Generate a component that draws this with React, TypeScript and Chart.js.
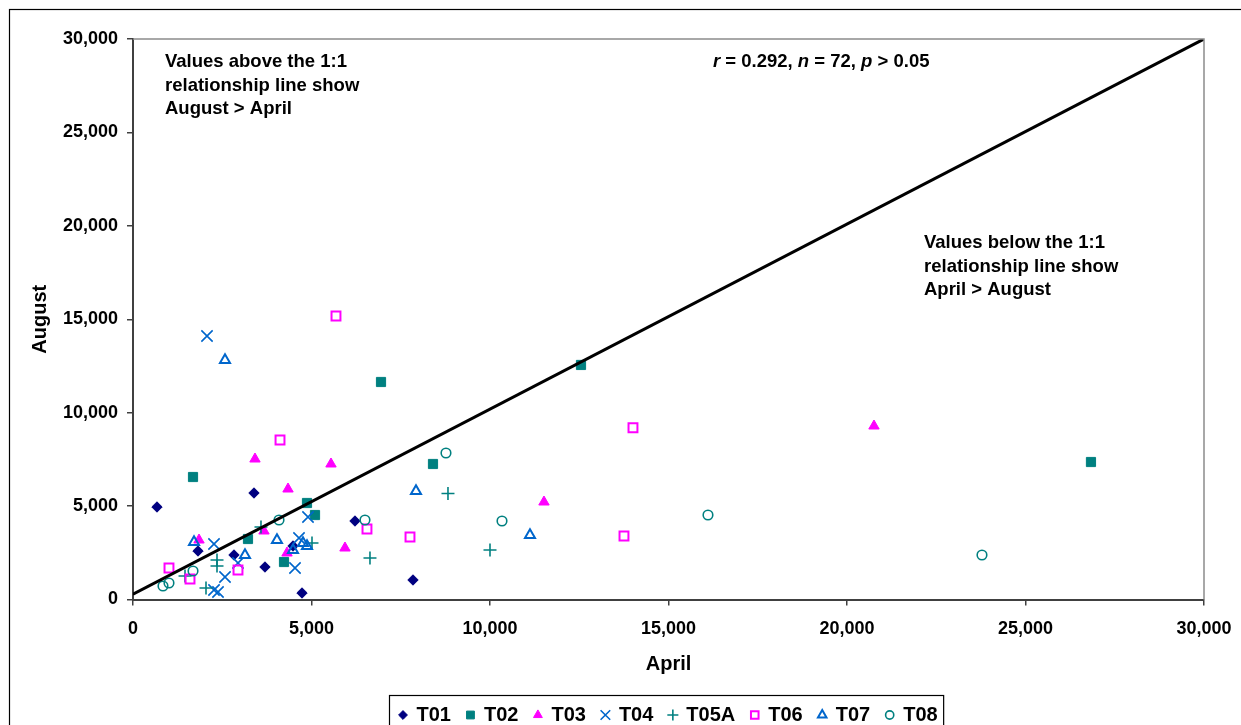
import React, { useEffect, useRef } from 'react';
import { Chart, registerables } from 'chart.js';
import { drawPoint } from 'chart.js/helpers';

Chart.register(...registerables);

const FONT = '"Liberation Sans", Arial, sans-serif';

const SERIES_NAMES = ['T01', 'T02', 'T03', 'T04', 'T05A', 'T06', 'T07', 'T08'];

const T01_APRIL = [672, 1821, 3389, 2829, 3697, 4482, 4734, 6218, 7843];
const T01_AUGUST = [4951, 2596, 5700, 2382, 1739, 2863, 348, 4201, 1044];
const T02_APRIL = [1681, 3221, 4230, 4874, 5098, 6947, 8403, 12549, 26834];
const T02_AUGUST = [6556, 3238, 2007, 5165, 4522, 11642, 7253, 12553, 7359];
const T03_APRIL = [1849, 3417, 3669, 4342, 4314, 5546, 5938, 11512, 20756];
const T03_AUGUST = [3184, 7520, 3666, 5914, 2489, 7253, 2756, 5218, 9286];
const T04_APRIL = [2073, 2269, 2577, 2269, 2381, 2941, 4538, 4650, 4902];
const T04_AUGUST = [14103, 2970, 1204, 508, 401, 1953, 1686, 3291, 4415];
const T05A_APRIL = [8823, 6638, 10000, 3585, 2353, 2353, 1457, 2045, 5014];
const T05A_AUGUST = [5673, 2221, 2649, 3880, 2114, 1793, 1258, 615, 3024];
const T06_APRIL = [5686, 4118, 14005, 13753, 7759, 6554, 1008, 1597, 2941];
const T06_AUGUST = [15173, 8538, 9195, 3398, 3345, 3773, 1686, 1097, 1579];
const T07_APRIL = [2577, 7927, 11120, 1709, 3137, 4033, 4482, 4762, 4874];
const T07_AUGUST = [12820, 5807, 3452, 3077, 2382, 3184, 2649, 3024, 2863];
const T08_APRIL = [8767, 16106, 23781, 10336, 6498, 4090, 1681, 840, 1008];
const T08_AUGUST = [7840, 4522, 2382, 4201, 4255, 4255, 1525, 722, 883];

const LINE_APRIL = [0, 30000];
const LINE_AUGUST = [280, 30000];

const X_TICKS = [0, 5000, 10000, 15000, 20000, 25000, 30000];
const Y_TICKS = [0, 5000, 10000, 15000, 20000, 25000, 30000];

const APRILS = [T01_APRIL, T02_APRIL, T03_APRIL, T04_APRIL, T05A_APRIL, T06_APRIL, T07_APRIL, T08_APRIL];
const AUGUSTS = [T01_AUGUST, T02_AUGUST, T03_AUGUST, T04_AUGUST, T05A_AUGUST, T06_AUGUST, T07_AUGUST, T08_AUGUST];

const STYLES = [
  { pointStyle: 'rectRot', radius: 5.2, fill: '#000080', stroke: '#000080', bw: 1 },
  { pointStyle: 'rect', radius: 6.5, fill: '#008080', stroke: '#008080', bw: 1 },
  { pointStyle: 'triangle', radius: 6, fill: '#FF00FF', stroke: '#FF00FF', bw: 1 },
  { pointStyle: 'crossRot', radius: 8, fill: 'rgba(0,0,0,0)', stroke: '#0066CC', bw: 1.6 },
  { pointStyle: 'cross', radius: 6.5, fill: 'rgba(0,0,0,0)', stroke: '#008080', bw: 1.6 },
  { pointStyle: 'rect', radius: 6.3, fill: 'rgba(255,255,255,0)', stroke: '#FF00FF', bw: 2 },
  { pointStyle: 'triangle', radius: 5.8, fill: 'rgba(255,255,255,0)', stroke: '#0066CC', bw: 2 },
  { pointStyle: 'circle', radius: 4.8, fill: 'rgba(255,255,255,0)', stroke: '#008080', bw: 1.6 },
];

const fmt = (v: number) => Number(v).toLocaleString('en-US');

const overlayPlugin = {
  id: 'overlay',
  afterDraw(chart: any) {
    const ctx = chart.ctx as CanvasRenderingContext2D;
    const { left, top, right, bottom } = chart.chartArea;
    ctx.save();
    // plot area border (top & right)
    ctx.strokeStyle = '#8c8c8c';
    ctx.lineWidth = 1.5;
    ctx.beginPath();
    ctx.moveTo(left, top);
    ctx.lineTo(right, top);
    ctx.lineTo(right, bottom);
    ctx.stroke();

    // outer chart border
    ctx.strokeStyle = '#000';
    ctx.lineWidth = 1.2;
    ctx.strokeRect(9.5, 9.5, 1300, 800);

    // annotations
    ctx.fillStyle = '#000';
    ctx.textBaseline = 'middle';
    ctx.textAlign = 'left';
    ctx.font = `bold 18.5px ${FONT}`;
    const above = ['Values above the 1:1', 'relationship line show', 'August > April'];
    above.forEach((t, i) => ctx.fillText(t, 165, 62 + i * 23.5));
    const below = ['Values below the 1:1', 'relationship line show', 'April > August'];
    below.forEach((t, i) => ctx.fillText(t, 924, 243 + i * 23.5));

    const segs: [string, boolean][] = [
      ['r', true], [' = 0.292, ', false], ['n', true], [' = 72, ', false], ['p', true], [' > 0.05', false],
    ];
    let x = 713;
    segs.forEach(([t, it]) => {
      ctx.font = `${it ? 'italic ' : ''}bold 18.5px ${FONT}`;
      ctx.fillText(t, x, 62);
      x += ctx.measureText(t).width;
    });

    // legend
    const ly = 715;
    let lx = 403;
    SERIES_NAMES.forEach((name, i) => {
      const s = STYLES[i];
      ctx.fillStyle = s.fill;
      ctx.strokeStyle = s.stroke;
      ctx.lineWidth = s.bw;
      drawPoint(ctx, { pointStyle: s.pointStyle, radius: s.radius * 0.85, borderWidth: s.bw, rotation: 0 } as any, lx, ly);
      ctx.fillStyle = '#000';
      ctx.font = `bold 20px ${FONT}`;
      const tx = lx + 13.5;
      ctx.fillText(name, tx, ly);
      const w = ctx.measureText(name).width;
      lx = tx + w + 19.5;
    });
    const legendRight = lx - 19.5 + 6;
    ctx.strokeStyle = '#000';
    ctx.lineWidth = 1.2;
    ctx.strokeRect(389.5, 695.5, legendRight - 389.5, 60);
    ctx.restore();
  },
};

export default function App() {
  const ref = useRef<HTMLCanvasElement | null>(null);

  useEffect(() => {
    if (!ref.current) return;
    const datasets: any[] = SERIES_NAMES.map((name, i) => {
      const s = STYLES[i];
      return {
        type: 'scatter',
        label: name,
        data: APRILS[i].map((a, j) => ({ x: a, y: AUGUSTS[i][j] })),
        pointStyle: s.pointStyle,
        pointRadius: s.radius,
        pointBackgroundColor: s.fill,
        pointBorderColor: s.stroke,
        pointBorderWidth: s.bw,
        backgroundColor: s.fill,
        borderColor: s.stroke,
        showLine: false,
        order: 8 - i,
      };
    });
    datasets.push({
      type: 'scatter',
      label: '1:1',
      data: LINE_APRIL.map((a, j) => ({ x: a, y: LINE_AUGUST[j] })),
      showLine: true,
      borderColor: '#000',
      borderWidth: 3,
      pointRadius: 0,
      order: 0,
    });

    const tickFont = { family: FONT, size: 18, weight: 'bold' as const };
    const titleFont = { family: FONT, size: 20, weight: 'bold' as const };

    const chart = new Chart(ref.current, {
      type: 'scatter',
      data: { datasets },
      plugins: [overlayPlugin],
      options: {
        animation: false,
        responsive: false,
        devicePixelRatio: 1,
        layout: { padding: { left: 0, top: 39, right: 37, bottom: 0 } },
        plugins: { legend: { display: false }, tooltip: { enabled: false } },
        scales: {
          x: {
            type: 'linear',
            min: 0,
            max: 30000,
            afterBuildTicks: (s: any) => { s.ticks = X_TICKS.map((v) => ({ value: v })); },
            afterFit: (s: any) => { s.height = 125.5; s.paddingRight = 0; s.paddingLeft = 0; },
            ticks: { callback: (v: any) => fmt(v), font: tickFont, color: '#000', padding: 13, maxRotation: 0, autoSkip: false },
            grid: { drawOnChartArea: false, drawTicks: true, tickLength: 6, color: '#404040', lineWidth: 1.5 },
            border: { display: true, color: '#404040', width: 2 },
            title: { display: true, text: 'April', font: titleFont, color: '#000', padding: { top: 0, bottom: 49 } },
          },
          y: {
            type: 'linear',
            min: 0,
            max: 30000,
            afterBuildTicks: (s: any) => { s.ticks = Y_TICKS.map((v) => ({ value: v })); },
            afterFit: (s: any) => { s.width = 133; s.paddingTop = 0; s.paddingBottom = 0; },
            ticks: { callback: (v: any) => fmt(v), font: tickFont, color: '#000', padding: 9, autoSkip: false },
            grid: { drawOnChartArea: false, drawTicks: true, tickLength: 6, color: '#404040', lineWidth: 1.5 },
            border: { display: true, color: '#404040', width: 2 },
            title: { display: true, text: 'August', font: titleFont, color: '#000', padding: { top: 28, bottom: 0 } },
          },
        },
      } as any,
    });
    return () => chart.destroy();
  }, []);

  return (
    <div style={{ position: 'absolute', left: 0, top: 0, width: 1241, height: 725, background: '#fff' }}>
      <canvas ref={ref} width={1241} height={725} style={{ display: 'block', width: 1241, height: 725 }} />
    </div>
  );
}
